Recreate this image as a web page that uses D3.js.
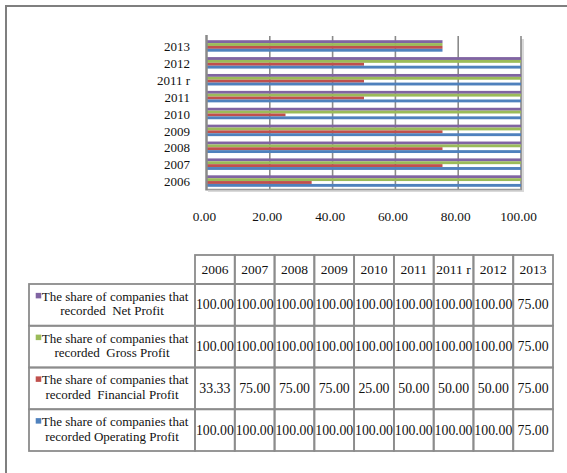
<!DOCTYPE html>
<html>
<head>
<meta charset="utf-8">
<script src="https://cdn.jsdelivr.net/npm/d3@7/dist/d3.min.js"></script>
<style>
  html, body { margin: 0; padding: 0; background: #fff; }
  svg { display: block; }
  text { font-family: "Liberation Serif", "Times New Roman", serif; fill: #111; }
</style>
</head>
<body>
<svg id="chart" width="567" height="473"></svg>
<script>
// Years shown on the category axis and as table columns
const years = ["2006", "2007", "2008", "2009", "2010", "2011", "2011 r", "2012", "2013"];

// Share of companies (%) per indicator
const netProfit       = [100, 100, 100, 100, 100, 100, 100, 100, 75];
const grossProfit     = [100, 100, 100, 100, 100, 100, 100, 100, 75];
const financialProfit = [33.33, 75, 75, 75, 25, 50, 50, 50, 75];
const operatingProfit = [100, 100, 100, 100, 100, 100, 100, 100, 75];

const seriesNames = [
  ["The share of companies that", "recorded  Net Profit"],
  ["The share of companies that", "recorded  Gross Profit"],
  ["The share of companies that", "recorded  Financial Profit"],
  ["The share of companies that", "recorded Operating Profit"]
];
const seriesColors = ["#8064A2", "#9BBB59", "#C0504D", "#4F81BD"];
const seriesValues = [netProfit, grossProfit, financialProfit, operatingProfit];

const xTicks = [0, 20, 40, 60, 80, 100];

const svg = d3.select("#chart");

// Outer frame
svg.append("rect")
  .attr("x", 6).attr("y", 6).attr("width", 620).attr("height", 520)
  .attr("fill", "none").attr("stroke", "#7f7f7f").attr("stroke-width", 2);

// ---- bar chart ----
const x = d3.scaleLinear().domain([0, 100]).range([207, 521]);
const y = d3.scaleBand().domain(years.slice().reverse()).range([37, 189]).paddingInner(0);
const inner = d3.scaleBand().domain(d3.range(4)).range([3.2, y.bandwidth() - 2.2]);

const plot = svg.append("g");

// back wall shadow
plot.append("rect")
  .attr("x", x(0) + 1).attr("y", y.range()[0] + 2)
  .attr("width", x(100) - x(0) + 2).attr("height", y.range()[1] - y.range()[0] + 1)
  .attr("fill", "#d9d9d9");
plot.append("rect")
  .attr("x", x(0)).attr("y", y.range()[0])
  .attr("width", x(100) - x(0)).attr("height", y.range()[1] - y.range()[0])
  .attr("fill", "#fff");

// vertical gridlines
plot.selectAll("line.grid")
  .data(xTicks.slice(1))
  .join("line")
  .attr("class", "grid")
  .attr("x1", d => x(d)).attr("x2", d => x(d))
  .attr("y1", y.range()[0] - 1).attr("y2", y.range()[1])
  .attr("stroke", "#8a8a8a").attr("stroke-width", 1.6);

// bottom edge of the wall
plot.append("line")
  .attr("x1", x(0)).attr("x2", x(100) + 1)
  .attr("y1", y.range()[1] + 0.5).attr("y2", y.range()[1] + 0.5)
  .attr("stroke", "#9a9a9a").attr("stroke-width", 1.5);

// bars
seriesValues.forEach((vals, si) => {
  plot.selectAll(null)
    .data(years.map((yr, i) => ({ yr, v: vals[i] })))
    .join("rect")
    .attr("x", x(0))
    .attr("y", d => y(d.yr) + inner(si))
    .attr("width", d => x(d.v) - x(0))
    .attr("height", inner.bandwidth())
    .attr("fill", seriesColors[si]);
});

// left axis line
plot.append("line")
  .attr("x1", x(0) - 0.5).attr("x2", x(0) - 0.5)
  .attr("y1", y.range()[0] - 2).attr("y2", y.range()[1] + 1.5)
  .attr("stroke", "#8a8a8a").attr("stroke-width", 2.5);

// category axis labels
const yAxis = d3.axisLeft(y).tickSize(0).tickPadding(0);
const yg = svg.append("g").attr("transform", "translate(190,0)").call(yAxis);
yg.select(".domain").remove();
yg.selectAll("text")
  .attr("dy", "0.32em").attr("y", 1.5)
  .style("font-size", "13px")
  .style("font-family", "'Liberation Serif', serif");

// value axis labels
const xAxis = d3.axisBottom(x).tickValues(xTicks).tickFormat(d3.format(".2f")).tickSize(0).tickPadding(0);
const xg = svg.append("g").attr("transform", "translate(-3,212)").call(xAxis);
xg.select(".domain").remove();
xg.selectAll("text")
  .style("font-size", "13.3px")
  .style("font-family", "'Liberation Serif', serif");

// ---- data table ----
const col = d3.scaleBand().domain(years).range([195, 553]);
const rowTop = 284, rowH = 41.75, headTop = 255;
const rows = d3.scaleBand().domain(d3.range(4)).range([rowTop, rowTop + 4 * rowH]);
const labelLeft = 29;
const lineCol = "#8c8c8c";
const tbl = svg.append("g");

// cell frames
tbl.selectAll("rect.head")
  .data(years)
  .join("rect")
  .attr("class", "head")
  .attr("x", d => col(d)).attr("y", headTop)
  .attr("width", col.bandwidth()).attr("height", rowTop - headTop)
  .attr("fill", "none").attr("stroke", lineCol).attr("stroke-width", 1.8);

d3.range(4).forEach(r => {
  tbl.append("rect")
    .attr("x", labelLeft).attr("y", rows(r))
    .attr("width", col.range()[0] - labelLeft).attr("height", rows.bandwidth())
    .attr("fill", "none").attr("stroke", lineCol).attr("stroke-width", 1.8);
  tbl.selectAll(null)
    .data(years)
    .join("rect")
    .attr("x", d => col(d)).attr("y", rows(r))
    .attr("width", col.bandwidth()).attr("height", rows.bandwidth())
    .attr("fill", "none").attr("stroke", lineCol).attr("stroke-width", 1.8);
});

// header text
tbl.selectAll("text.head")
  .data(years)
  .join("text")
  .attr("class", "head")
  .attr("x", d => col(d) + col.bandwidth() / 2)
  .attr("y", headTop + (rowTop - headTop) / 2 + 4.5)
  .attr("text-anchor", "middle")
  .style("font-size", "13.5px")
  .text(d => d);

// row labels with legend keys
const labelMid = (labelLeft + col.range()[0]) / 2;
seriesNames.forEach((lines, r) => {
  const cy = rows(r) + rows.bandwidth() / 2;
  const t1 = tbl.append("text")
    .attr("x", labelMid + 3).attr("y", cy - 4)
    .attr("text-anchor", "middle")
    .style("font-size", "13px")
    .text(lines[0]);
  const w = t1.node().getComputedTextLength();
  tbl.append("rect")
    .attr("x", labelMid + 3 - w / 2 - 6).attr("y", cy - 12)
    .attr("width", 5.5).attr("height", 5.5)
    .attr("fill", seriesColors[r]);
  tbl.append("text")
    .attr("x", labelMid).attr("y", cy + 10.5)
    .attr("text-anchor", "middle")
    .style("white-space", "pre")
    .attr("xml:space", "preserve")
    .style("font-size", "13px")
    .text(lines[1]);

  tbl.selectAll(null)
    .data(years.map((yr, i) => ({ yr, v: seriesValues[r][i] })))
    .join("text")
    .attr("x", d => col(d.yr) + col.bandwidth() / 2)
    .attr("y", cy + 4.5)
    .attr("text-anchor", "middle")
    .style("font-size", "13.8px")
    .text(d => d3.format(".2f")(d.v));
});
</script>
</body>
</html>
